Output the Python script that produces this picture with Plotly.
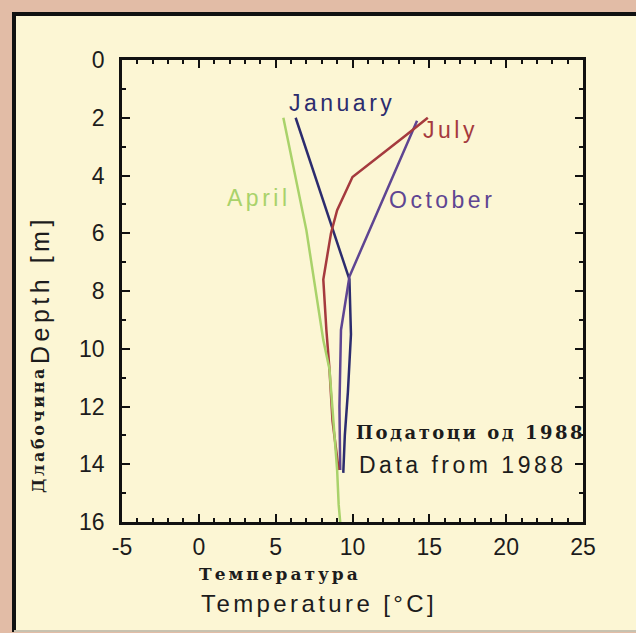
import plotly.graph_objects as go

# Depth profiles (temperature °C vs depth m)
jan_temp = [6.3, 9.8, 9.9, 9.7, 9.5, 9.4]
jan_depth = [2.0, 7.6, 9.5, 11.5, 13.0, 14.3]

apr_temp = [5.5, 7.0, 8.1, 8.5, 9.0, 9.1, 9.2]
apr_depth = [2.0, 5.9, 9.7, 10.7, 14.2, 15.4, 16.0]

jul_temp = [14.9, 13.5, 10.0, 9.0, 8.6, 8.1, 8.3, 8.5, 8.7, 9.1]
jul_depth = [2.0, 2.6, 4.05, 5.2, 6.0, 7.6, 9.35, 10.7, 12.5, 14.2]

oct_temp = [14.2, 11.1, 9.8, 9.25, 9.15, 9.2]
oct_depth = [2.1, 5.9, 7.5, 9.35, 12.0, 14.2]

x_ticks = [-5, 0, 5, 10, 15, 20, 25]
x_ticktext = ["-5", "0", "5", "10", "15", "20", "25"]
y_ticks = [0, 2, 4, 6, 8, 10, 12, 14, 16]

series = [
    ("January", jan_temp, jan_depth, "#2c2c6e"),
    ("October", oct_temp, oct_depth, "#5e4592"),
    ("July", jul_temp, jul_depth, "#a53a3e"),
    ("April", apr_temp, apr_depth, "#a9d26a"),
]

fig = go.Figure()
for name, t, d, c in series:
    fig.add_trace(go.Scatter(x=t, y=d, mode="lines", name=name,
                             line=dict(color=c, width=2.5), showlegend=False))

font = "Liberation Sans, Arial, sans-serif"
serif = "DejaVu Serif, Liberation Serif, serif"
cream = "#fcf6d4"
ink = "#1c1c1c"


def spaced(txt, ls):
    return '<span style="letter-spacing:%spx">%s</span>' % (ls, txt)


labels = [
    ("January", 9.3, 1.49, "#2c2c6e"),
    ("July", 16.4, 2.42, "#a53a3e"),
    ("April", 3.9, 4.78, "#a9d26a"),
    ("October", 15.8, 4.85, "#5e4592"),
]
for txt, x, y, c in labels:
    fig.add_annotation(x=x, y=y, text=spaced(txt, 3.5), showarrow=False,
                       xanchor="center", yanchor="middle",
                       font=dict(family=font, size=23, color=c))

fig.add_annotation(x=25, y=12.9, xanchor="right", yanchor="middle", xshift=4,
                   text="<b>" + spaced("Податоци од 1988", 2.5) + "</b>",
                   showarrow=False, font=dict(family=serif, size=18, color=ink))
fig.add_annotation(x=24.1, y=14.03, xanchor="right", yanchor="middle",
                   text=spaced("Data from 1988", 3.5),
                   showarrow=False, font=dict(family=font, size=23, color=ink))


def px(x):
    return (x - 122) / 461


def py(y):
    return (522 - y) / 462


# axis titles as annotations
titles = [
    (spaced("Depth [m]", 4.5), 40, 290, -90, font, 25),
    ("<b>" + spaced("Длабочина", 2.7) + "</b>", 38, 430, -90, serif, 16),
    ("<b>" + spaced("Температура", 3) + "</b>", 280, 574, 0, serif, 17),
    (spaced("Temperature [°C]", 3.4), 319, 603, 0, font, 24),
]
for txt, cx, cy, ang, fam, sz in titles:
    fig.add_annotation(xref="paper", yref="paper", x=px(cx), y=py(cy),
                       xanchor="center", yanchor="middle",
                       text=txt, textangle=ang, showarrow=False,
                       font=dict(family=fam, size=sz, color=ink))

# frame
fig.add_shape(type="rect", xref="paper", yref="paper", layer="below",
              x0=px(13), x1=px(645), y0=py(630), y1=py(13),
              fillcolor=cream, line=dict(width=0))
fig.add_shape(type="line", xref="paper", yref="paper", x0=px(12), x1=px(645),
              y0=py(14), y1=py(14), line=dict(color="#111", width=4))
fig.add_shape(type="line", xref="paper", yref="paper", x0=px(14), x1=px(14),
              y0=py(12), y1=py(632), line=dict(color="#111", width=4))
fig.add_shape(type="line", xref="paper", yref="paper", x0=px(14), x1=px(645),
              y0=py(631), y1=py(631), line=dict(color="#c8c2b0", width=2))

axis_common = dict(showgrid=False, zeroline=False, showline=True, linecolor="#111",
                   linewidth=2.5, mirror="ticks", ticks="inside", tickcolor="#111",
                   tickwidth=2, ticklen=8,
                   tickfont=dict(family=font, size=23, color=ink))

fig.update_xaxes(range=[-5, 25], tickmode="array", tickvals=x_ticks, ticktext=x_ticktext,
                 ticklabelstandoff=3,
                 minor=dict(dtick=1, tick0=0, ticks="inside", ticklen=4, tickcolor="#111", tickwidth=1.5),
                 **axis_common)
fig.update_yaxes(range=[16, 0], tickmode="array", tickvals=y_ticks,
                 ticklabelstandoff=10,
                 minor=dict(dtick=1, tick0=0, ticks="inside", ticklen=4, tickcolor="#111", tickwidth=1.5),
                 **axis_common)

fig.update_layout(width=636, height=633,
                  margin=dict(l=122, r=53, t=60, b=111),
                  paper_bgcolor="#e2bca6", plot_bgcolor=cream,
                  showlegend=False)

fig.write_html("out.html", config={"displayModeBar": False},
               post_script="document.body.style.margin='0px';document.body.style.background='#e2bca6';")
